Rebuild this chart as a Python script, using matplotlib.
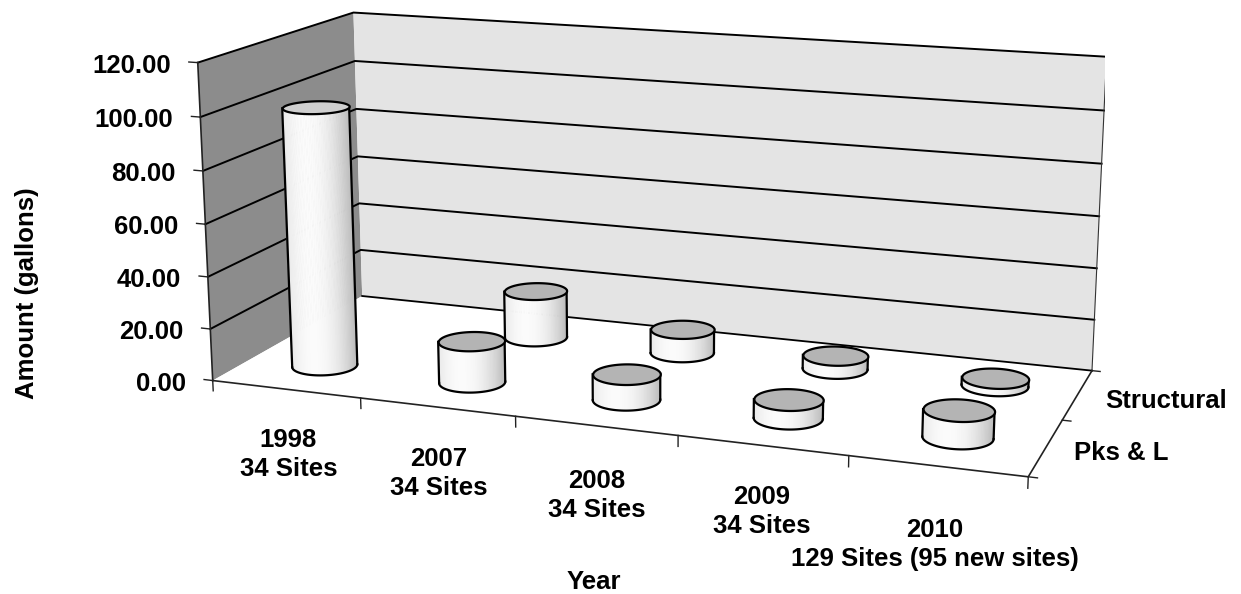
import numpy as np
import matplotlib
matplotlib.use("Agg")
import matplotlib.pyplot as plt
from mpl_toolkits.mplot3d import proj3d
from mpl_toolkits.mplot3d.art3d import Poly3DCollection

W, H = 1241, 594

# data
categories = ["1998\n34 Sites", "2007\n34 Sites", "2008\n34 Sites",
              "2009\n34 Sites", "2010\n129 Sites (95 new sites)"]
series_names = ["Pks & L", "Structural"]
pks_l = [100.0, 16.0, 9.8, 7.0, 10.0]
structural = [0.0, 19.0, 9.5, 5.3, 3.0]
z_ticks = [0, 20, 40, 60, 80, 100, 120]

FONT = ["Liberation Sans", "DejaVu Sans"]

# view (perspective like the Excel 3-D chart)
ELEV, AZIM, FOCAL = 13.92, -70.19, 0.4747
BOX = (1.0, 0.4026, 0.3922)
CX, CY, SIDE = 642.8, 361.3, 923.9

fig = plt.figure(figsize=(W / 100, H / 100), dpi=100)
ax = fig.add_axes([(CX - SIDE / 2) / W, (CY - SIDE / 2) / H, SIDE / W, SIDE / H],
                  projection="3d", computed_zorder=False)
ax.set_xlim(0, 5)
ax.set_ylim(0, 2)
ax.set_zlim(0, 120)
ax.view_init(elev=ELEV, azim=AZIM)
ax.set_proj_type("persp", focal_length=FOCAL)
ax.set_box_aspect(BOX)
ax.set_axis_off()
fig.canvas.draw()
M = ax.get_proj()


def to_px(x, y, z):
    x = np.atleast_1d(np.asarray(x, float))
    y = np.broadcast_to(np.atleast_1d(np.asarray(y, float)), x.shape)
    z = np.broadcast_to(np.atleast_1d(np.asarray(z, float)), x.shape)
    xs, ys, _ = proj3d.proj_transform(x, y, z, M)
    return ax.transData.transform(np.column_stack([xs, ys]))


# walls and floor
left_wall = [(0, 0, 0), (0, 2, 0), (0, 2, 120), (0, 0, 120)]
back_wall = [(0, 2, 0), (5, 2, 0), (5, 2, 120), (0, 2, 120)]
floor = [(0, 0, 0), (5, 0, 0), (5, 2, 0), (0, 2, 0)]
ax.add_collection3d(Poly3DCollection([left_wall], facecolor="#8c8c8c",
                                     edgecolor="none", zorder=0))
ax.add_collection3d(Poly3DCollection([back_wall], facecolor="#e4e4e4",
                                     edgecolor="none", zorder=0))
ax.add_collection3d(Poly3DCollection([floor], facecolor="white",
                                     edgecolor="none", zorder=0))

for zt in z_ticks[1:]:
    ax.plot([0, 0, 5], [0, 2, 2], [zt, zt, zt], color="black", lw=1.4, zorder=1)
ax.plot([5, 5], [2, 2], [0, 120], color="#333333", lw=0.8, zorder=1)
ax.plot([0, 5], [2, 2], [0, 0], color="black", lw=1.3, zorder=1)
ax.plot([0, 5, 5], [0, 0, 2], [0, 0, 0], color="#222222", lw=1.2, zorder=1)
ax.plot([0, 0], [0, 0], [0, 120], color="#222222", lw=1.2, zorder=1)
for zt in z_ticks:
    ax.plot([-0.06, 0], [0, 0], [zt, zt], color="#222222", lw=1.0, zorder=1)
for xt in range(6):
    ax.plot([xt, xt], [0, 0], [0, -4], color="#222222", lw=1.0, zorder=1)
for yt in range(3):
    ax.plot([5, 5.05], [yt, yt], [0, 0], color="#222222", lw=1.0, zorder=1)

# cylinders
rx, ry = 0.2, 0.2
N = 120
th = np.linspace(0, 2 * np.pi, N, endpoint=False)


def cylinder(xc, yc, h, z0, top_color):
    xs = xc + rx * np.cos(th)
    ys = yc + ry * np.sin(th)
    mid = to_px(xs, ys, h / 2)
    il, ir = int(np.argmin(mid[:, 0])), int(np.argmax(mid[:, 0]))
    arc1 = [(il + k) % N for k in range(((ir - il) % N) + 1)]
    arc2 = [(ir + k) % N for k in range(((il - ir) % N) + 1)]
    bot = to_px(xs, ys, 0)
    front = arc1 if bot[arc1, 1].mean() < bot[arc2, 1].mean() else arc2
    quads, cols = [], []
    x_l, x_r = mid[il, 0], mid[ir, 0]
    for a, b in zip(front[:-1], front[1:]):
        u = ((mid[a, 0] + mid[b, 0]) / 2 - x_l) / (x_r - x_l) * 2 - 1
        g = 0.985 - 0.26 * ((u + 0.3) / 1.3) ** 2
        quads.append([(xs[a], ys[a], 0), (xs[b], ys[b], 0),
                      (xs[b], ys[b], h), (xs[a], ys[a], h)])
        cols.append((g, g, g))
    ax.add_collection3d(Poly3DCollection(quads, facecolors=cols, edgecolors=cols,
                                         linewidths=0.6, zorder=z0))
    ax.plot(xs[front], ys[front], 0, color="black", lw=1.6, zorder=z0 + 1)
    for i in (il, ir):
        ax.plot([xs[i], xs[i]], [ys[i], ys[i]], [0, h], color="black",
                lw=1.6, zorder=z0 + 1)
    top = [list(zip(xs, ys, np.full(N, h)))]
    ax.add_collection3d(Poly3DCollection(top, facecolor=top_color,
                                         edgecolor="black", linewidths=1.6,
                                         zorder=z0 + 2))


for j, vals in ((1, structural), (0, pks_l)):
    for i, v in enumerate(vals):
        if v > 0:
            tc = "#cfcfcf" if v > 50 else "#b4b4b4"
            cylinder(i + 0.5, j + 0.5, v, 10 + 10 * (1 - j) + i * 0.1, tc)

# texts
tick_font = dict(family=FONT, fontsize=18.5, fontweight="bold")
for zt in z_ticks:
    px, py = to_px(0, 0, zt)[0]
    fig.text((px - 27) / W, (py - 3) / H, f"{zt:.2f}", ha="right", va="center",
             **tick_font)

label_dy = [-2, -2, 0, -5, 5]  # pixel nudges, downward positive
for i, lab in enumerate(categories):
    px, py = to_px(i + 0.5, 0, -26)[0]
    py -= label_dy[i]
    year, sites = lab.split("\n")
    fig.text(px / W, (py + 14.5) / H, year, ha="center", va="center", **tick_font)
    fig.text(px / W, (py - 14.5) / H, sites, ha="center", va="center", **tick_font)

for j, name in enumerate(series_names):
    px, py = to_px(5, j + 0.5, 0)[0]
    fig.text((px + 28) / W, (py - 6) / H, name, ha="left", va="center", **tick_font)

fig.text(27 / W, 1 - 293 / H, "Amount (gallons)", rotation=90, ha="center",
         va="center", **tick_font)
fig.text(594 / W, 1 - 582 / H, "Year", ha="center", va="center", **tick_font)

fig.savefig("out.png", dpi=100, facecolor="white")
